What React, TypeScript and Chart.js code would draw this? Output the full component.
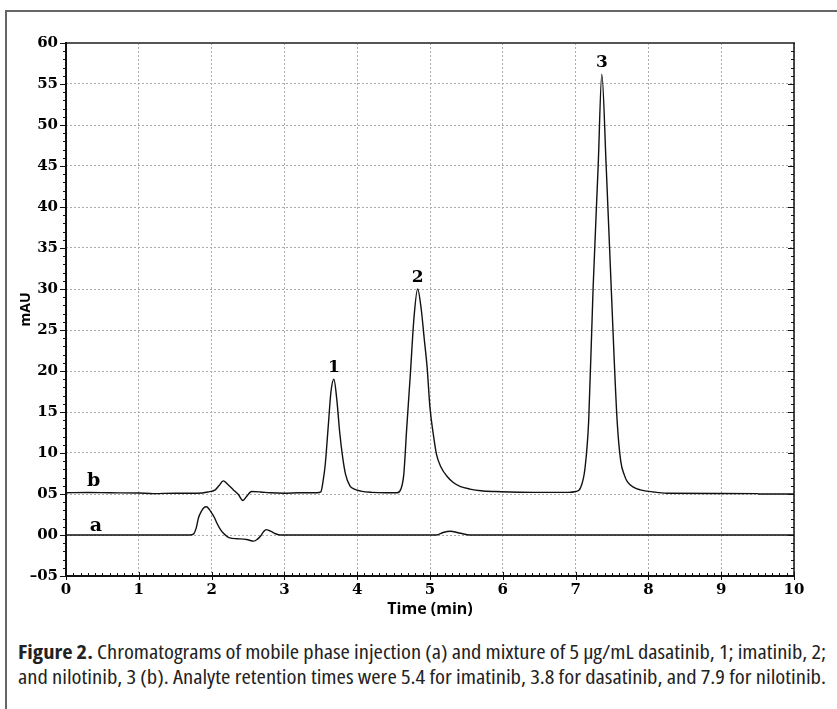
import React, { useEffect, useRef } from "react";
import { Chart, registerables } from "chart.js";

Chart.register(...registerables);

// Trace a: mobile phase injection
const aTime = [0, 1.7, 1.75, 1.79, 1.82, 1.86, 1.89, 1.93, 1.97, 2.0, 2.04, 2.07, 2.12, 2.16, 2.25, 2.35, 2.48, 2.58, 2.63, 2.67, 2.71, 2.75, 2.79, 2.83, 2.88, 2.94, 5.09, 5.18, 5.28, 5.4, 5.55, 10];
const aSignal = [0, 0, 0.1, 0.9, 2.1, 2.9, 3.3, 3.45, 3.1, 2.7, 2.1, 1.5, 0.7, 0.25, -0.35, -0.45, -0.55, -0.75, -0.5, -0.15, 0.35, 0.65, 0.55, 0.37, 0.15, 0, 0, 0.3, 0.45, 0.25, 0, 0];

// Trace b: mixture (1 dasatinib, 2 imatinib, 3 nilotinib)
const bTime = [0, 0.3, 0.6, 1.0, 1.2, 1.5, 1.8, 1.95, 2.05, 2.1, 2.16, 2.22, 2.3, 2.37, 2.43, 2.48, 2.55, 2.67, 2.8, 3.0, 3.2, 3.45, 3.5, 3.53, 3.56, 3.6, 3.64, 3.68, 3.72, 3.76, 3.8, 3.84, 3.9, 3.96, 4.05, 4.2, 4.4, 4.55, 4.6, 4.64, 4.68, 4.73, 4.78, 4.83, 4.88, 4.92, 4.96, 5.0, 5.05, 5.09, 5.15, 5.23, 5.32, 5.42, 5.55, 5.7, 5.9, 6.1, 6.5, 6.9, 7.0, 7.07, 7.13, 7.18, 7.24, 7.31, 7.36, 7.42, 7.49, 7.57, 7.62, 7.67, 7.71, 7.8, 7.89, 8.07, 8.25, 9.0, 9.5, 9.52, 10];
const bSignal = [5.15, 5.18, 5.15, 5.12, 5.05, 5.1, 5.1, 5.25, 5.5, 6.0, 6.6, 6.2, 5.5, 4.9, 4.2, 4.7, 5.3, 5.25, 5.15, 5.1, 5.15, 5.15, 5.25, 6.5, 8.5, 13, 17.5, 19, 16.5, 12.5, 9.5, 7.4, 6.0, 5.6, 5.35, 5.2, 5.15, 5.15, 5.6, 7.4, 13, 19.6, 26.5, 30, 27.5, 24, 20.5, 15.5, 12, 9.8, 8.3, 7.2, 6.4, 5.9, 5.6, 5.4, 5.3, 5.25, 5.2, 5.2, 5.3, 5.8, 8.2, 14, 30, 45, 56.2, 45, 30, 14, 9, 7.3, 6.5, 5.8, 5.5, 5.25, 5.1, 5.07, 5.05, 5.0, 5.0];

const xTickValues = [0, 1, 2, 3, 4, 5, 6, 7, 8, 9, 10];
const yTickValues = [-5, 0, 5, 10, 15, 20, 25, 30, 35, 40, 45, 50, 55, 60];
const yTickLabels = ["\u201305", "00", "05", "10", "15", "20", "25", "30", "35", "40", "45", "50", "55", "60"];

const traceNames = ["a", "b"];
const traceNameX = [0.41, 0.38];
const traceNameY = [0.5, 6.0];

const peakNames = ["1", "2", "3"];
const peakTimes = [3.68, 4.83, 7.36];

const xTitle = "Time (min)";
const yTitle = "mAU";

const captionLines = [
  ["Figure 2.", " Chromatograms of mobile phase injection (a) and mixture of 5 µg/mL dasatinib, 1; imatinib, 2;"],
  ["", "and nilotinib, 3 (b). Analyte retention times were 5.4 for imatinib, 3.8 for dasatinib, and 7.9 for nilotinib."],
];

const toPoints = (xs: number[], ys: number[]) => xs.map((x, i) => ({ x, y: ys[i] }));

const decorPlugin = {
  id: "decor",
  afterDraw(chart: any) {
    const { ctx, chartArea } = chart;
    const { left, right, top, bottom } = chartArea;
    const xs = chart.scales.x;
    const ys = chart.scales.y;
    ctx.save();
    ctx.strokeStyle = "#111";
    ctx.lineWidth = 1;
    for (let v = -5; v <= 60; v += 1) {
      const py = Math.round(ys.getPixelForValue(v)) + 0.5;
      const major = v % 5 === 0;
      ctx.beginPath();
      ctx.moveTo(left - (major ? 6 : 3), py);
      ctx.lineTo(left, py);
      ctx.moveTo(right, py);
      ctx.lineTo(right - (major ? 6 : 3), py);
      ctx.stroke();
    }
    for (let i = 0; i <= 100; i++) {
      const t = i / 10;
      const px = Math.round(xs.getPixelForValue(t)) + 0.5;
      const major = i % 10 === 0;
      ctx.beginPath();
      if (major) {
        ctx.moveTo(px, bottom - 4);
        ctx.lineTo(px, bottom + 4);
      } else {
        ctx.moveTo(px, bottom - 3);
        ctx.lineTo(px, bottom);
      }
      ctx.stroke();
    }
    ctx.lineWidth = 2;
    ctx.strokeStyle = "#555";
    ctx.beginPath();
    ctx.moveTo(left, top);
    ctx.lineTo(right + 1, top);
    ctx.stroke();
    ctx.strokeStyle = "#111";
    ctx.beginPath();
    ctx.moveTo(left, top - 1);
    ctx.lineTo(left, bottom);
    ctx.lineTo(right, bottom);
    ctx.stroke();
    ctx.lineWidth = 1.5;
    ctx.beginPath();
    ctx.moveTo(right, top);
    ctx.lineTo(right, bottom);
    ctx.stroke();

    ctx.fillStyle = "#000";
    ctx.font = "bold 19px 'DejaVu Serif'";
    ctx.textAlign = "center";
    ctx.textBaseline = "alphabetic";
    traceNames.forEach((n, i) => {
      ctx.fillText(n, xs.getPixelForValue(traceNameX[i]), ys.getPixelForValue(traceNameY[i]));
    });
    ctx.font = "bold 17px 'DejaVu Serif'";
    ctx.textBaseline = "bottom";
    peakNames.forEach((n, i) => {
      const t = peakTimes[i];
      let best = -Infinity;
      bTime.forEach((bt, k) => {
        if (Math.abs(bt - t) < 0.06 && bSignal[k] > best) best = bSignal[k];
      });
      ctx.fillText(n, xs.getPixelForValue(t), ys.getPixelForValue(best) - 3);
    });
    ctx.font = "bold 16px 'Open Sans'";
    ctx.textBaseline = "middle";
    ctx.fillText(xTitle, (left + right) / 2, bottom + 33);
    ctx.save();
    ctx.translate(left - 40, (top + bottom) / 2);
    ctx.rotate(-Math.PI / 2);
    ctx.font = "bold 14px 'Open Sans'";
    ctx.fillText(yTitle, 0, 0);
    ctx.restore();
    ctx.restore();
  },
};

export default function App() {
  const ref = useRef<HTMLCanvasElement | null>(null);
  const lineRefs = useRef<(HTMLSpanElement | null)[]>([]);
  useEffect(() => {
    document.body.style.margin = "0";
    lineRefs.current.forEach((el) => {
      if (!el) return;
      const w = el.getBoundingClientRect().width;
      if (w > 0) el.style.transform = `scaleX(${808 / w})`;
    });
    if (!ref.current) return;
    const chart = new Chart(ref.current, {
      type: "line",
      data: {
        datasets: [
          {
            label: "a",
            data: toPoints(aTime, aSignal),
            borderColor: "#111",
            borderWidth: 1.4,
            pointRadius: 0,
            cubicInterpolationMode: "monotone",
            fill: false,
          },
          {
            label: "b",
            data: toPoints(bTime, bSignal),
            borderColor: "#111",
            borderWidth: 1.4,
            pointRadius: 0,
            cubicInterpolationMode: "monotone",
            fill: false,
          },
        ],
      },
      options: {
        animation: false,
        responsive: false,
        devicePixelRatio: 1,
        layout: { padding: { left: 0, right: 43, top: 43, bottom: 0 } },
        plugins: { legend: { display: false }, tooltip: { enabled: false } },
        scales: {
          x: {
            type: "linear",
            min: 0,
            max: 10,
            afterFit: (s: any) => {
              s.height = 54;
            },
            afterBuildTicks: (s: any) => {
              s.ticks = xTickValues.map((v) => ({ value: v }));
            },
            ticks: {
              color: "#000",
              font: { family: "'DejaVu Serif'", weight: "bold", size: 15 },
              padding: 5,
              maxRotation: 0,
              autoSkip: false,
            },
            grid: { color: "#aaa", lineWidth: 1, drawTicks: false },
            border: { display: false, dash: [2, 2] },
          },
          y: {
            type: "linear",
            min: -5,
            max: 60,
            afterFit: (s: any) => {
              s.width = 66;
            },
            afterBuildTicks: (s: any) => {
              s.ticks = yTickValues.map((v) => ({ value: v }));
            },
            ticks: {
              color: "#000",
              font: { family: "'DejaVu Serif'", weight: "bold", size: 15 },
              padding: 8,
              autoSkip: false,
              callback: (v: any) => {
                const i = yTickValues.indexOf(Number(v));
                return i >= 0 ? yTickLabels[i] : "";
              },
            },
            grid: { color: "#aaa", lineWidth: 1, drawTicks: false },
            border: { display: false, dash: [2, 2] },
          },
        },
      },
      plugins: [decorPlugin],
    });
    return () => chart.destroy();
  }, []);

  return (
    <div style={{ position: "relative", width: 837, height: 709, overflow: "hidden", background: "#fff" }}>
      <div
        style={{
          position: "absolute",
          left: 5,
          top: 10,
          width: 850,
          height: 720,
          borderLeft: "2px solid #666",
          borderTop: "2px solid #666",
        }}
      />
      <canvas ref={ref} width={837} height={630} style={{ position: "absolute", left: 0, top: 0, width: 837, height: 630 }} />
      <div
        style={{
          position: "absolute",
          left: 18,
          top: 640,
          width: 830,
          fontFamily: "'Open Sans', sans-serif",
          fontStretch: "condensed",
          fontSize: 19,
          lineHeight: "25px",
          color: "#222",
        }}
      >
        {captionLines.map((ln, i) => (
          <div key={i} style={{ whiteSpace: "nowrap" }}>
            <span
              ref={(el) => {
                lineRefs.current[i] = el;
              }}
              style={{ display: "inline-block", transformOrigin: "0 0" }}
            >
              {ln[0] ? <b>{ln[0]}</b> : null}
              {ln[1]}
            </span>
          </div>
        ))}
      </div>
    </div>
  );
}
